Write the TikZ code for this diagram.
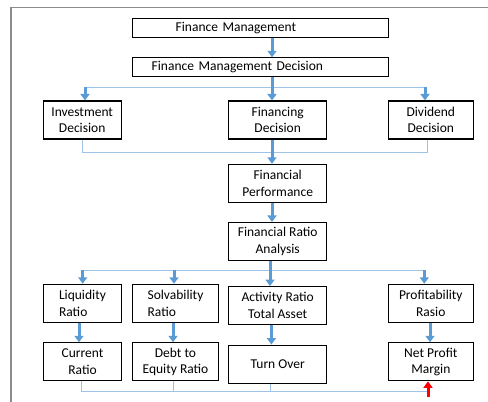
\documentclass[tikz,border=0pt]{standalone}
\usepackage{fontspec}
\setmainfont{Carlito}
\usetikzlibrary{arrows.meta, positioning}

\definecolor{arrowblue}{RGB}{91,155,213}
\definecolor{lineblue}{RGB}{157,195,230}
\definecolor{framegray}{RGB}{140,140,140}

\begin{document}
\begin{tikzpicture}[
    x=1pt, y=-1pt,
    box/.style={rectangle, draw, line width=1.1pt, minimum height=38pt, inner sep=2pt, align=center, font=\fontsize{13.5}{16.5}\selectfont},
    wide/.style={box, minimum height=19pt, text width=256pt, inner xsep=0pt, align=left},
    arrow/.style={-{Triangle[width=9pt,length=6.5pt]}, line width=3pt, draw=arrowblue, fill=arrowblue},
    redarrow/.style={-{Triangle[width=9pt,length=6.5pt]}, line width=3pt, draw=red, fill=red},
    link/.style={line width=1pt, draw=lineblue}
]
\useasboundingbox (0,0) rectangle (488,402);

% Frame
\draw[framegray, line width=1.5pt] (11,402) -- (11,7.5) -- (488,7.5);

% Nodes
\node[wide] (fm) at (260.7,27.8) {\hspace*{43pt}Finance Management};
\node[wide, below=19.4pt of fm] (fmd) {\hspace*{19pt}Finance Management Decision};

\node[box, minimum width=77.7pt] (inv) at (82.2,120) {Investment\\Decision};
\node[box, minimum width=98pt] (fin) at (277.7,120) {Financing\\Decision};
\node[box, minimum width=85pt] (div) at (430.8,120) {Dividend\\Decision};

\node[box, minimum width=98pt, below=24.3pt of fin] (perf) {Financial\\Performance};
\node[box, minimum width=98pt, below=19pt of perf] (fra) {Financial Ratio\\Analysis};

\node[box, minimum width=78.3pt, align=left] (liq) at (82.5,303.3) {Liquidity\\Ratio};
\node[box, minimum width=85.6pt, align=left] (solv) at (175.5,303.3) {Solvability\\Ratio};
\node[box, minimum width=98pt, below=25pt of fra] (act) {Activity Ratio\\Total Asset};
\node[box, minimum width=85pt] (prof) at (430.8,303.3) {Profitability\\Rasio};

\node[box, minimum width=78.3pt, below=19.4pt of liq] (cur) {Current\\Ratio};
\node[box, minimum width=85.6pt, below=19.4pt of solv] (debt) {Debt to\\Equity Ratio};
\node[box, minimum width=98pt, below=19.4pt of act] (turn) {Turn Over};
\node[box, minimum width=85pt, below=19.4pt of prof] (npm) {Net Profit\\Margin};

% Junctions
\coordinate (spine) at (272,0);
\coordinate (spineb) at (270,0);
\coordinate (j1l) at (85,87.3);
\coordinate (j1r) at (425,87.3);
\coordinate (j2l) at (82,152.7);
\coordinate (j2r) at (427,152.7);
\coordinate (j3l) at (82.7,270);
\coordinate (j3s) at (174,270);
\coordinate (j3r) at (424.3,270);
\coordinate (j4l) at (81,391.7);
\coordinate (j4d) at (173,391.7);
\coordinate (j4t) at (270,391.7);
\coordinate (j4r) at (428,391.7);
\coordinate (j4red) at (428,397);

% Arrows
\draw[link] (j1l) -- (j1r);
\draw[arrow] (spine |- fm.south) -- (spine |- fmd.north);
\draw[arrow] (spine |- fmd.south) -- (spine |- fin.north);
\draw[arrow] (j1l) -- (j1l |- inv.north);
\draw[arrow] (j1r) -- (j1r |- div.north);

\draw[link] (j2l |- inv.south) -- (j2l) -- (j2r) -- (j2r |- div.south);
\draw[arrow] (spine |- fin.south) -- (spine |- perf.north);
\draw[arrow] (spine |- perf.south) -- (spine |- fra.north);

\draw[link] (j3l) -- (j3r);
\draw[arrow] (spineb |- fra.south) -- (spineb |- act.north);
\draw[arrow] (j3l) -- (j3l |- liq.north);
\draw[arrow] (j3s) -- (j3s |- solv.north);
\draw[arrow] (j3r) -- (j3r |- prof.north);

\draw[arrow] ([xshift=-3.5pt]liq.south) -- ([xshift=-3.5pt]cur.north);
\draw[arrow] ([xshift=-2.5pt]solv.south) -- ([xshift=-2.5pt]debt.north);
\draw[arrow] ([xshift=-6.3pt]act.south) -- ([xshift=-6.3pt]turn.north);
\draw[arrow] ([xshift=-0.8pt]prof.south) -- ([xshift=-0.8pt]npm.north);

\draw[link] (j4l |- cur.south) -- (j4l) -- (j4r);
\draw[link] (j4d |- debt.south) -- (j4d);
\draw[link] (j4t |- turn.south) -- (j4t);
\draw[redarrow] (j4red) -- (j4red |- npm.south);

\end{tikzpicture}
\end{document}
